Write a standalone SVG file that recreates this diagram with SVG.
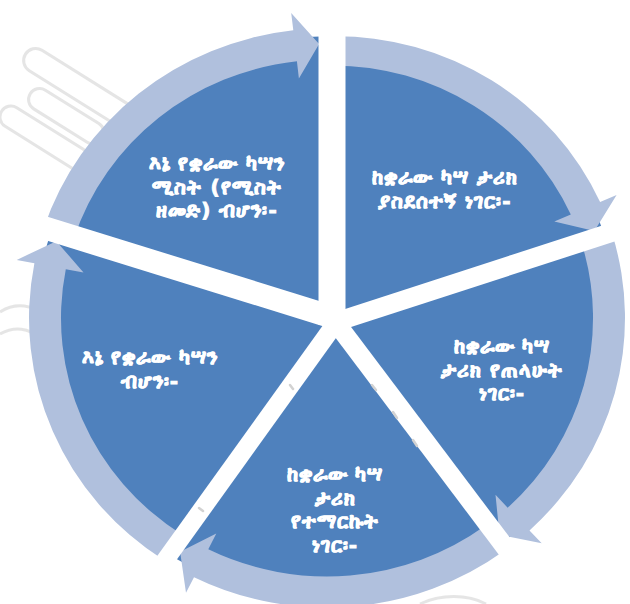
<svg xmlns="http://www.w3.org/2000/svg" width="630" height="604" viewBox="0 0 630 604">
<style>
.seg{fill:#4F81BD}
.ring{fill:#B0C0DD}
.gap{stroke:#FFFFFF;fill:none;stroke-linecap:butt}
.lbl{font-family:"DejaVu Sans","Noto Sans",sans-serif;font-size:20px;font-weight:bold;letter-spacing:1px;fill:#FFFFFF;stroke:#FFFFFF;stroke-width:0.9;text-anchor:middle}
.wm{fill:none;stroke:#D4D4D4;stroke-width:3;opacity:0.6}
.dash{stroke:#D2D2D2;stroke-width:2.5;stroke-linecap:round}
</style>
<rect width="630" height="604" fill="#FFFFFF"/>
<g id="watermark">
  <g transform="translate(70,115) rotate(32)" class="wm">
    <rect x="-70" y="-40" width="125" height="24" rx="12"/>
    <rect x="-45" y="-8" width="85" height="22" rx="11"/>
    <rect x="-60" y="22" width="100" height="22" rx="11"/>
  </g>
  <path class="wm" d="M0,312 C15,302 35,304 45,318 M0,334 C14,326 30,328 38,338"/>
  <path class="wm" d="M420,604 C440,594 468,594 486,604"/>
</g>
<g transform="translate(327,318) scale(1,0.9716)">
  <g id="node-top-left"><path class="seg" d="M5,10 L-277.3,-84.8 A290,290 0 0 1 5.1,-290 Z"/></g>
  <g id="node-top-right"><path class="seg" d="M5,10 L5.1,-290 A290,290 0 0 1 274.2,-94.4 Z"/></g>
  <g id="node-right"><path class="seg" d="M5,10 L274.2,-94.4 A290,290 0 0 1 176.5,230.1 Z"/></g>
  <g id="node-bottom"><path class="seg" d="M5,10 L176.5,230.1 A290,290 0 0 1 -160.1,241.8 Z"/></g>
  <g id="node-left"><path class="seg" d="M5,10 L-160.1,241.8 A290,290 0 0 1 -277.3,-84.8 Z"/></g>
  <g id="connectors">
    <path class="ring" d="M-283.4,-92.1 A298,298 0 0 1 -33.7,-296.1 L-35.8,-314 L-7.9,-281.9 L-28.1,-246.4 L-30.1,-264.3 A266,266 0 0 0 -253,-82.2 Z"/>
    <path class="ring" d="M5.2,-290 A290,290 0 0 1 273.1,-119.3 L289.6,-126.5 L267.4,-89.5 L227.3,-99.3 L243.8,-106.5 A262,262 0 0 0 4.6,-260 Z"/>
    <path class="ring" d="M285,-87.1 A298,298 0 0 1 202.5,218.6 L214.7,231.9 L172.5,223.1 L168.5,182 L180.7,195.2 A266,266 0 0 0 254.4,-77.8 Z"/>
    <path class="ring" d="M177.3,239.5 A298,298 0 0 1 -133,266.7 L-141,282.8 L-146.9,240.7 L-110.7,221.9 L-118.7,238.1 A266,266 0 0 0 158.2,213.8 Z"/>
    <path class="ring" d="M-162.3,249.9 A298,298 0 0 1 -292.6,-56.4 L-310.3,-59.8 L-270.7,-79.1 L-243.5,-46.9 L-261.2,-50.3 A266,266 0 0 0 -144.9,223.1 Z"/>
  </g>
</g>
<g id="gaps">
  <line class="gap" x1="332" y1="325" x2="332" y2="-5" stroke-width="27"/>
  <line class="gap" x1="335" y1="322.3" x2="640" y2="223.2" stroke-width="19"/>
  <line class="gap" x1="335" y1="321.4" x2="559.7" y2="619.6" stroke-width="19"/>
  <line class="gap" x1="336" y1="322.4" x2="122.1" y2="620.3" stroke-width="18"/>
  <line class="gap" x1="336" y1="318.2" x2="-5" y2="212.5" stroke-width="23"/>
  <g>
    <line class="dash" x1="372" y1="385" x2="376" y2="390"/>
    <line class="dash" x1="393" y1="412" x2="397" y2="418"/>
    <line class="dash" x1="413" y1="440" x2="417" y2="446"/>
    <line class="dash" x1="199" y1="508" x2="203" y2="511"/>
    <line class="dash" x1="290" y1="385" x2="293" y2="389"/>
  </g>
</g>
<g id="labels">
  <g id="label-top-left">
    <text class="lbl" x="217" y="170">እኔ የቋራው ካሣን</text>
    <text class="lbl" x="217" y="193.5">ሚስት (የሚስት</text>
    <text class="lbl" x="217" y="217">ዘመድ) ብሆን፡-</text>
  </g>
  <g id="label-top-right">
    <text class="lbl" x="445" y="184">ከቋራው ካሣ ታሪክ</text>
    <text class="lbl" x="445" y="207.5">ያስደሰተኝ ነገር፡-</text>
  </g>
  <g id="label-right">
    <text class="lbl" x="502" y="353">ከቋራው ካሣ</text>
    <text class="lbl" x="502" y="376.5">ታሪክ የጠላሁት</text>
    <text class="lbl" x="502" y="400">ነገር፡-</text>
  </g>
  <g id="label-bottom">
    <text class="lbl" x="335" y="481">ከቋራው ካሣ</text>
    <text class="lbl" x="335" y="504.5">ታሪክ</text>
    <text class="lbl" x="335" y="528">የተማርኩት</text>
    <text class="lbl" x="335" y="551.5">ነገር፡-</text>
  </g>
  <g id="label-left">
    <text class="lbl" x="150" y="364">እኔ የቋራው ካሣን</text>
    <text class="lbl" x="150" y="388">ብሆን፡-</text>
  </g>
</g>
</svg>
